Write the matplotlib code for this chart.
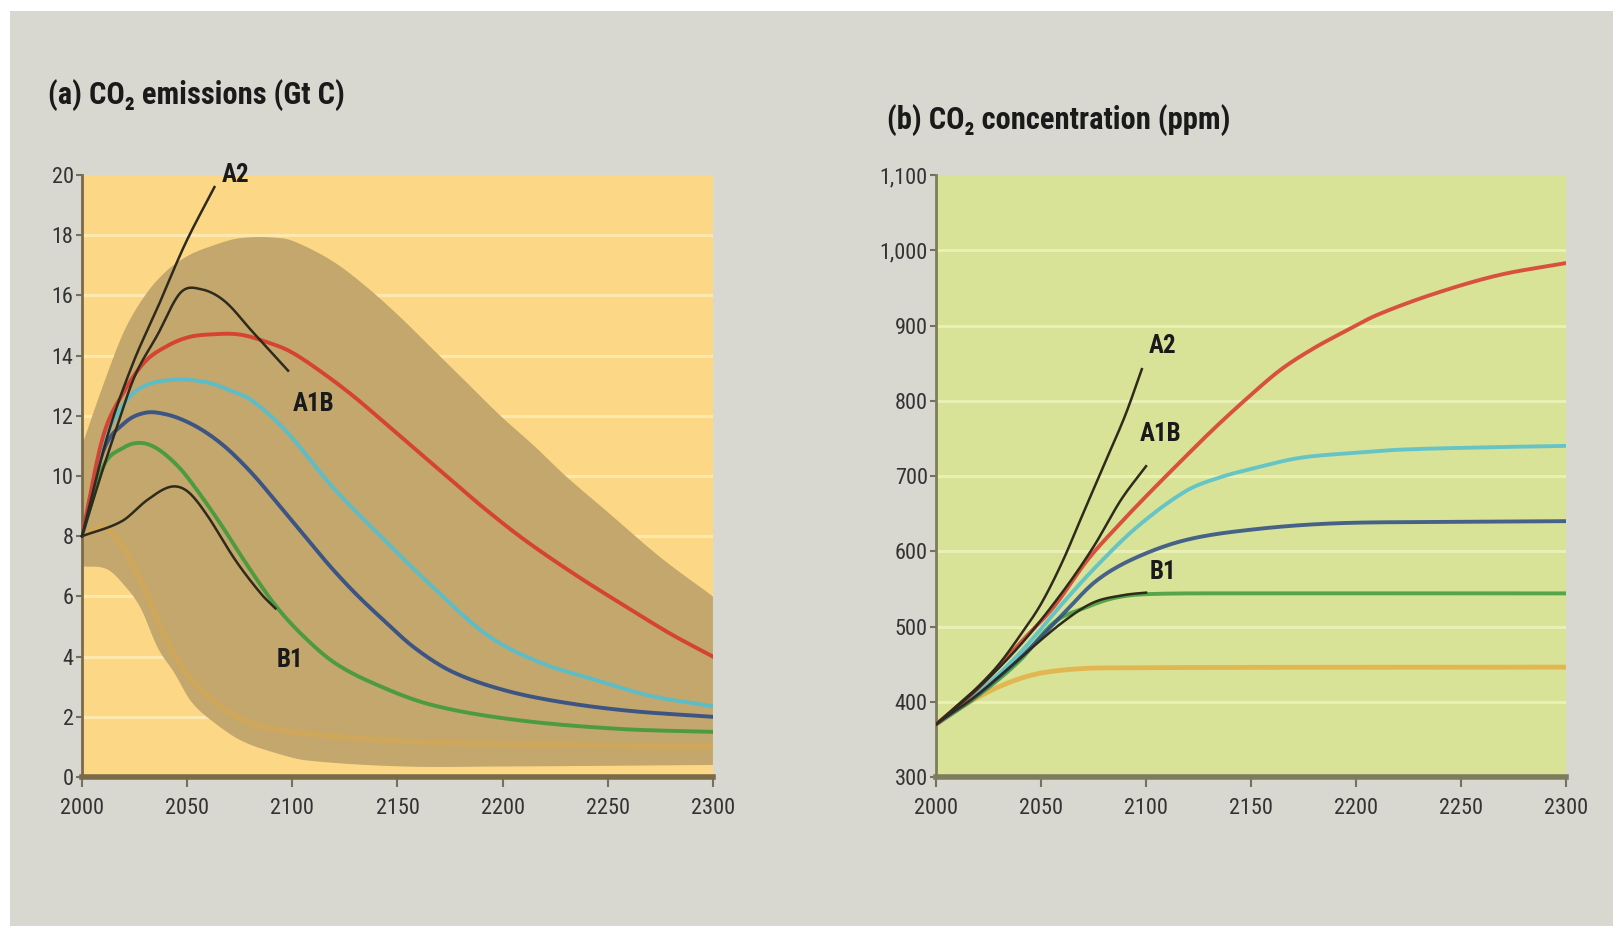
import numpy as np
import matplotlib
matplotlib.use("Agg")
import matplotlib.pyplot as plt
from matplotlib.patches import Rectangle

# ─────────────────────────────────────────
# DATA: (a) CO2 emissions (Gt C)
# ─────────────────────────────────────────
em_band_upper_years = [2000, 2010, 2020, 2030, 2040, 2050, 2060, 2075, 2095, 2104, 2120, 2135,
                       2151, 2167, 2183, 2199, 2215, 2230, 2250, 2275, 2300]
em_band_upper = [11.0, 13.0, 14.8, 16.0, 16.8, 17.3, 17.6, 17.9, 17.9, 17.7, 17.1, 16.3,
                 15.3, 14.2, 13.1, 12.0, 11.0, 10.0, 8.8, 7.3, 6.0]
em_band_lower_years = [2000, 2012, 2021, 2028, 2036, 2044, 2052, 2063, 2076, 2092, 2107, 2153, 2200, 2300]
em_band_lower = [7.0, 6.9, 6.3, 5.6, 4.3, 3.45, 2.5, 1.8, 1.2, 0.8, 0.55, 0.35, 0.35, 0.4]

em_red_years = [2000, 2010, 2020, 2030, 2040, 2050, 2060, 2075, 2090, 2100, 2115, 2130,
                2145, 2160, 2175, 2190, 2210, 2235, 2260, 2280, 2300]
em_red = [8.0, 11.3, 12.8, 13.8, 14.3, 14.6, 14.7, 14.7, 14.4, 14.1, 13.4, 12.6,
          11.7, 10.8, 9.9, 9.0, 7.9, 6.7, 5.6, 4.75, 4.0]

em_cyan_years = [2000, 2010, 2020, 2030, 2045, 2060, 2072, 2081, 2097, 2119, 2142,
                 2167, 2193, 2218, 2243, 2270, 2300]
em_cyan = [8.0, 11.0, 12.4, 13.0, 13.2, 13.1, 12.8, 12.5, 11.5, 9.65, 8.0,
           6.3, 4.7, 3.8, 3.25, 2.7, 2.35]

em_navy_years = [2000, 2010, 2020, 2030, 2040, 2050, 2060, 2070, 2082, 2094, 2106, 2118,
                 2130, 2142, 2158, 2176, 2200, 2227, 2260, 2300]
em_navy = [8.0, 10.8, 11.75, 12.1, 12.05, 11.8, 11.4, 10.85, 10.0, 9.0, 8.0, 7.0,
           6.1, 5.3, 4.3, 3.5, 2.9, 2.5, 2.2, 2.0]

em_green_years = [2000, 2010, 2020, 2028, 2036, 2046, 2054, 2066, 2078, 2092, 2105, 2120,
                  2139, 2166, 2206, 2255, 2300]
em_green = [8.0, 10.3, 10.95, 11.1, 10.9, 10.3, 9.6, 8.4, 7.1, 5.7, 4.7, 3.8,
            3.1, 2.4, 1.9, 1.6, 1.5]

em_orange_years = [2000, 2010, 2020, 2030, 2040, 2050, 2065, 2080, 2100, 2150, 2200, 2300]
em_orange = [8.0, 8.3, 7.6, 6.2, 4.6, 3.4, 2.4, 1.8, 1.5, 1.2, 1.1, 1.0]

em_a2_years = [2000, 2012, 2024, 2036, 2049, 2063]
em_a2 = [8.0, 11.3, 13.7, 15.6, 17.7, 19.6]

em_a1b_years = [2000, 2008, 2016, 2025, 2036, 2047, 2057, 2068, 2081, 2098]
em_a1b = [8.0, 9.8, 11.5, 13.3, 14.7, 16.1, 16.2, 15.8, 14.8, 13.5]

em_b1_years = [2000, 2019, 2031, 2042, 2050, 2059, 2073, 2085, 2092]
em_b1 = [8.0, 8.5, 9.2, 9.64, 9.5, 8.75, 7.2, 6.1, 5.6]

# ─────────────────────────────────────────
# DATA: (b) CO2 concentration (ppm)
# ─────────────────────────────────────────
cc_red_years = [2000, 2020, 2040, 2056, 2072, 2086, 2100, 2116, 2132, 2148, 2164, 2180,
                2196, 2210, 2237, 2268, 2300]
cc_red = [370, 418, 478, 526, 588, 632, 673, 718, 762, 803, 841, 870,
          894, 914, 942, 967, 983]

cc_cyan_years = [2000, 2020, 2040, 2060, 2076, 2096, 2119, 2135, 2151, 2173, 2200, 2221, 2260, 2300]
cc_cyan = [370, 412, 465, 530, 579, 633, 680, 698, 710, 724, 731, 735, 738, 740]

cc_navy_years = [2000, 2020, 2040, 2060, 2076, 2094, 2119, 2151, 2189, 2240, 2300]
cc_navy = [370, 410, 458, 515, 560, 590, 615, 629, 637, 639, 640]

cc_green_years = [2000, 2020, 2040, 2056, 2072, 2085, 2100, 2150, 2300]
cc_green = [370, 408, 455, 505, 526, 538, 543, 544, 544]

cc_orange_years = [2000, 2015, 2030, 2045, 2060, 2080, 2300]
cc_orange = [370, 398, 420, 435, 442, 445, 446]

cc_a2_years = [2000, 2010, 2020, 2030, 2040, 2050, 2060, 2070, 2080, 2090, 2098]
cc_a2 = [370, 395, 420, 450, 488, 530, 585, 650, 715, 780, 842]

cc_a1b_years = [2000, 2020, 2040, 2060, 2075, 2088, 2100]
cc_a1b = [370, 418, 475, 545, 606, 668, 713]

cc_b1_years = [2000, 2020, 2040, 2060, 2075, 2090, 2100]
cc_b1 = [370, 410, 458, 505, 532, 542, 545]

year_ticks = [2000, 2050, 2100, 2150, 2200, 2250, 2300]
em_ticks = [0, 2, 4, 6, 8, 10, 12, 14, 16, 18, 20]
cc_ticks = [300, 400, 500, 600, 700, 800, 900, 1000, 1100]
cc_tick_labels = ["300", "400", "500", "600", "700", "800", "900", "1,000", "1,100"]

# ─────────────────────────────────────────
# STYLE
# ─────────────────────────────────────────
FONT = ["Roboto Condensed", "Liberation Sans", "DejaVu Sans"]
plt.rcParams["font.family"] = FONT

RED, CYAN, NAVY, GREEN, ORANGE = "#d8382c", "#52bfd0", "#2e4c86", "#3f9a3c", "#e6a93a"
DARK = "#2e2a1c"


def smooth(xs, ys, n=400):
    """Catmull-Rom style cubic curve through the read-off points."""
    xs = np.asarray(xs, float)
    ys = np.asarray(ys, float)
    h = np.diff(xs)
    m = np.empty_like(ys)
    m[0] = (ys[1] - ys[0]) / h[0]
    m[-1] = (ys[-1] - ys[-2]) / h[-1]
    m[1:-1] = (ys[2:] - ys[:-2]) / (xs[2:] - xs[:-2])
    xx = np.linspace(xs[0], xs[-1], n)
    i = np.clip(np.searchsorted(xs, xx) - 1, 0, len(xs) - 2)
    t = (xx - xs[i]) / h[i]
    h00 = 2 * t**3 - 3 * t**2 + 1
    h10 = t**3 - 2 * t**2 + t
    h01 = -2 * t**3 + 3 * t**2
    h11 = t**3 - t**2
    yy = h00 * ys[i] + h10 * h[i] * m[i] + h01 * ys[i + 1] + h11 * h[i] * m[i + 1]
    return xx, yy


def style_axes(ax, face, grid_col, spine_col, ticks, tick_labels=None):
    ax.set_facecolor(face)
    ax.set_xlim(2000, 2300)
    ax.set_xticks(year_ticks)
    ax.set_yticks(ticks)
    if tick_labels is not None:
        ax.set_yticklabels(tick_labels)
    for t in ticks[1:-1]:
        ax.axhline(t, color=grid_col, lw=2.2, zorder=0.5)
    for s in ["top", "right"]:
        ax.spines[s].set_visible(False)
    ax.spines["left"].set_color(spine_col)
    ax.spines["left"].set_linewidth(2)
    ax.spines["bottom"].set_color(spine_col)
    ax.spines["bottom"].set_linewidth(4)
    ax.tick_params(axis="x", direction="out", length=7, width=1.5, color="#777060",
                   labelsize=16, labelcolor="#333333", pad=8)
    ax.tick_params(axis="y", direction="out", length=4, width=1.5, color="#777060",
                   labelsize=16, labelcolor="#333333", pad=2)


fig = plt.figure(figsize=(16.13, 9.26), dpi=100)
fig.patch.set_facecolor("white")
fig.patches.append(Rectangle((0.006, 0.0), 0.994, 0.988, transform=fig.transFigure,
                             facecolor="#d8d8d0", edgecolor="none", zorder=-10))

# ── (a) emissions ──
ax1 = fig.add_axes([0.0508, 0.1609, 0.3912, 0.6501])
style_axes(ax1, "#fcd886", "#fde9ae", "#7a6a48", em_ticks)
ax1.set_ylim(0, 20)

ux, uy = smooth(em_band_upper_years, em_band_upper)
lx, ly = smooth(em_band_lower_years, em_band_lower)
ax1.fill(np.concatenate([ux, lx[::-1]]), np.concatenate([uy, ly[::-1]]),
         color="#c3a76c", lw=0, zorder=1)

x, y = smooth(em_orange_years, em_orange)
ax1.plot(x, y, color=ORANGE, lw=4, alpha=0.35, zorder=2)
for yrs, vals, col in [(em_green_years, em_green, GREEN), (em_navy_years, em_navy, NAVY),
                       (em_cyan_years, em_cyan, CYAN), (em_red_years, em_red, RED)]:
    x, y = smooth(yrs, vals)
    ax1.plot(x, y, color=col, lw=2.8, alpha=0.9, zorder=3)
for yrs, vals in [(em_a2_years, em_a2), (em_a1b_years, em_a1b), (em_b1_years, em_b1)]:
    x, y = smooth(yrs, vals)
    ax1.plot(x, y, color=DARK, lw=1.8, zorder=4, clip_on=False)

lab = dict(fontsize=18, fontweight="bold", color="#1a1a1a", ha="center", va="center", zorder=5)
ax1.text(2073, 20.0, "A2", clip_on=False, **lab)
ax1.text(2110, 12.4, "A1B", **lab)
ax1.text(2099, 3.9, "B1", **lab)

# ── (b) concentration ──
ax2 = fig.add_axes([0.5803, 0.1609, 0.3906, 0.6501])
style_axes(ax2, "#d8e397", "#e8f0b4", "#7c7d5c", cc_ticks, cc_tick_labels)
ax2.set_ylim(300, 1100)

x, y = smooth(cc_orange_years, cc_orange)
ax2.plot(x, y, color=ORANGE, lw=3.5, alpha=0.75, zorder=2)
for yrs, vals, col in [(cc_green_years, cc_green, GREEN), (cc_navy_years, cc_navy, NAVY),
                       (cc_cyan_years, cc_cyan, CYAN), (cc_red_years, cc_red, RED)]:
    x, y = smooth(yrs, vals)
    ax2.plot(x, y, color=col, lw=2.8, alpha=0.85, zorder=3)
for yrs, vals in [(cc_a2_years, cc_a2), (cc_a1b_years, cc_a1b), (cc_b1_years, cc_b1)]:
    x, y = smooth(yrs, vals)
    ax2.plot(x, y, color=DARK, lw=1.8, zorder=4)

ax2.text(2108, 873, "A2", **lab)
ax2.text(2107, 756, "A1B", **lab)
ax2.text(2108, 572, "B1", **lab)

# ── titles ──
fig.text(0.030, 0.897, "(a) CO\u2082 emissions (Gt C)", fontsize=22, fontweight="bold",
         color="#1a1a1a", va="center", ha="left", family=FONT)
fig.text(0.550, 0.870, "(b) CO\u2082 concentration (ppm)", fontsize=22, fontweight="bold",
         color="#1a1a1a", va="center", ha="left", family=FONT)

fig.savefig("out.png", dpi=100, facecolor=fig.get_facecolor())
